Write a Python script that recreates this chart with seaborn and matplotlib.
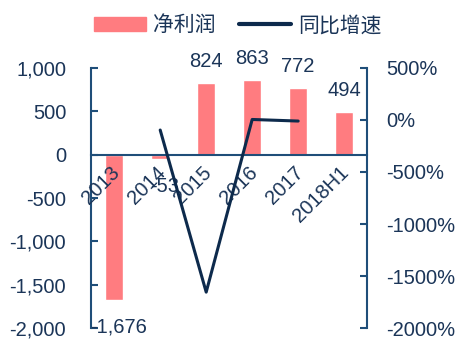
import numpy as np
import pandas as pd
import matplotlib
matplotlib.use('Agg')
import matplotlib.pyplot as plt
import seaborn as sns
from matplotlib.ticker import FuncFormatter, FixedLocator
from matplotlib.patches import Patch
from matplotlib.lines import Line2D

sns.set_theme(style="white")
plt.rcParams['font.family'] = ['Liberation Sans', 'Noto Sans CJK SC', 'DejaVu Sans']
plt.rcParams['axes.unicode_minus'] = False

# 数据
years = ['2013', '2014', '2015', '2016', '2017', '2018H1']
profit = [-1676, -53, 824, 863, 772, 494]
growth_years = ['2014', '2015', '2016', '2017']
growth = [-96.8, -1654.7, 4.7, -10.5]  # %

bar_color = '#FF7C80'
line_color = '#0D2A4C'
axis_color = '#1F4E79'
text_color = '#1B3558'
fs = 14.5

df = pd.DataFrame({'year': years, 'profit': profit})
pos = {y: i for i, y in enumerate(years)}
dfg = pd.DataFrame({'x': [pos[y] for y in growth_years], 'growth': growth})

fig = plt.figure(figsize=(4.63, 3.52), dpi=100)
ax = fig.add_axes([0.197, 0.068, 0.596, 0.739])

sns.barplot(data=df, x='year', y='profit', color=bar_color, width=0.4,
            saturation=1, ax=ax)
ax.set_axisbelow(False)
ax.set_xlim(-0.5, 5.5)
ax.set_ylim(-2000, 1000)
ax.set_yticks([1000, 500, 0, -500, -1000, -1500, -2000])
ax.yaxis.set_major_formatter(FuncFormatter(lambda v, p: f'{int(v):,}'))
ax.set_xlabel('')
ax.set_ylabel('')

# 数据标签
for i, v in enumerate(profit):
    if v >= 0:
        ax.text(i, v + 140, f'{v:,}', ha='center', va='bottom', fontsize=fs, color=text_color)
    else:
        ax.text(i + 0.1, v - 200, f'{v:,}', ha='center', va='top', fontsize=fs, color=text_color)

# x轴在0处
for s in ['top', 'right']:
    ax.spines[s].set_visible(False)
ax.spines['bottom'].set_position(('data', 0))
ax.spines['left'].set_color(axis_color)
ax.spines['bottom'].set_color(axis_color)
ax.spines['left'].set_linewidth(1.5)
ax.spines['bottom'].set_linewidth(1.5)

# 标签略向左偏
ax.set_xticks([i - 0.1 for i in range(len(years))])
ax.set_xticklabels(years, rotation=45, ha='right', rotation_mode='anchor',
                   fontsize=fs, color=text_color)
ax.tick_params(axis='x', which='major', length=0, pad=6)
ax.xaxis.set_minor_locator(FixedLocator([0.5, 1.5, 2.5, 3.5, 4.5]))
ax.tick_params(axis='x', which='minor', length=5, width=1.5, color=axis_color, direction='out')
ax.tick_params(axis='y', direction='in', length=5, width=1.5, color=axis_color,
               labelsize=fs, labelcolor=text_color, pad=18, left=True)

# 右轴
ax2 = ax.twinx()
sns.lineplot(data=dfg, x='x', y='growth', color=line_color, linewidth=2.2, ax=ax2)
ax2.set_ylim(-2000, 500)
ax2.set_yticks([500, 0, -500, -1000, -1500, -2000])
ax2.yaxis.set_major_formatter(FuncFormatter(lambda v, p: f'{int(v)}%'))
ax2.set_xlim(-0.5, 5.5)
ax2.set_ylabel('')
ax2.set_xlabel('')
for s in ['top', 'left', 'bottom']:
    ax2.spines[s].set_visible(False)
ax2.spines['right'].set_color(axis_color)
ax2.spines['right'].set_linewidth(1.5)
ax2.tick_params(axis='y', direction='in', length=5, width=1.5, color=axis_color,
                labelsize=fs, labelcolor=text_color, pad=14, right=True)

# 图例
handles = [Patch(color=bar_color, label='净利润'),
           Line2D([0], [0], color=line_color, linewidth=3, label='同比增速')]
fig.legend(handles=handles, loc='upper center', bbox_to_anchor=(0.514, 1.01), ncol=2,
           frameon=False, fontsize=15, handlelength=2.5, handleheight=0.7,
           columnspacing=1.1, handletextpad=0.35, labelcolor=text_color)

fig.savefig('out.png', dpi=100)
